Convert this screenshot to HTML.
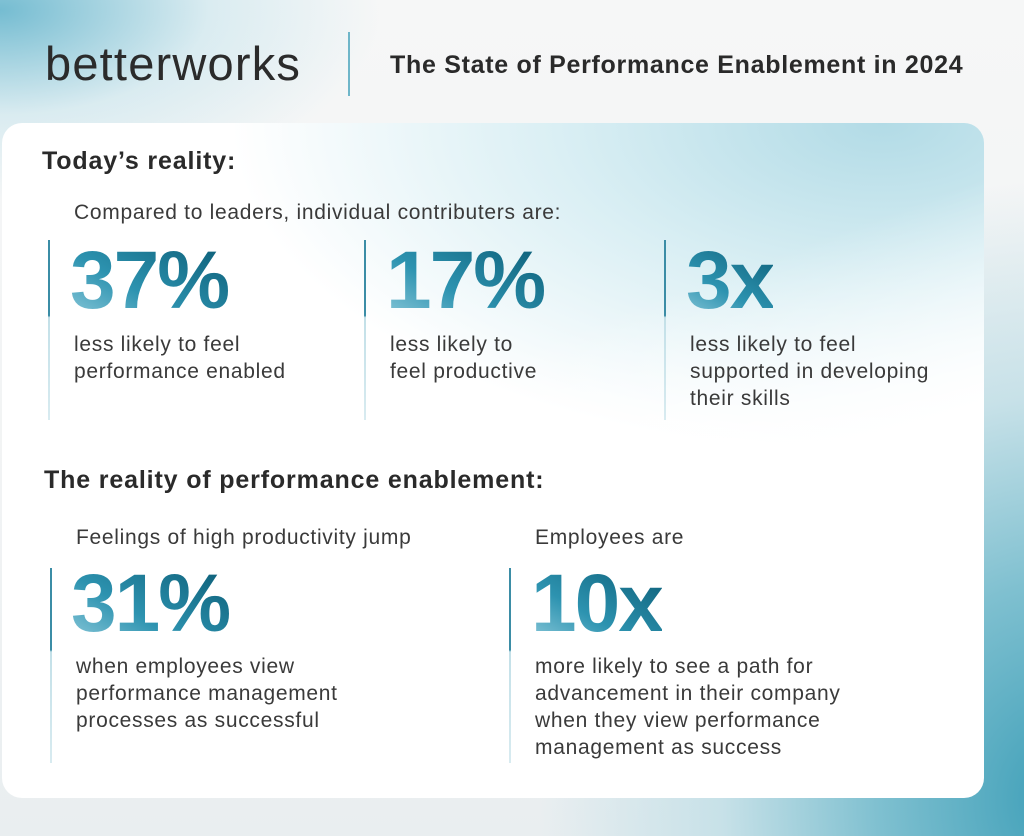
<!DOCTYPE html>
<html><head><style>
*{margin:0;padding:0;box-sizing:border-box}
body{width:1024px;height:836px;overflow:hidden;position:relative;font-family:"Liberation Sans",sans-serif;color:#333;
background:
radial-gradient(ellipse 380px 190px at 0px 10px,rgba(110,185,207,0.95),rgba(190,225,235,0.5) 55%,rgba(245,246,246,0) 100%),
radial-gradient(ellipse 520px 620px at 1060px 800px,#3e9fb8 0%,#7fc0d0 35%,#c7e1e8 65%,rgba(240,243,244,0) 100%),
linear-gradient(180deg,#f6f7f7 0%,#f1f3f4 60%,#e9eef0 100%);}
.card{position:absolute;left:2px;top:123px;width:982px;height:675px;border-radius:20px;overflow:hidden;
background:linear-gradient(160deg,rgba(255,255,255,0) 40%,#fff 62%),radial-gradient(ellipse 650px 330px at 880px 0px,#b2dbe6,#daeff4 50%,#fff 100%);}
.t{position:absolute;white-space:nowrap}
.logo{left:45px;top:36px;font-size:47px;color:#2b2b2b;letter-spacing:1.2px}
.title{left:390px;top:51px;font-size:25px;font-weight:bold;color:#2a2a2a;letter-spacing:0.7px}
.sep{position:absolute;left:348px;top:32px;width:2px;height:64px;background:#6fb6c9}
.h{font-size:25px;font-weight:bold;color:#2a2a2a;letter-spacing:0.85px}
.b{font-size:21px;line-height:27px;color:#3a3a3a;letter-spacing:0.7px}
.n{font-size:82px;font-weight:bold;letter-spacing:-2px;line-height:82px;
background:linear-gradient(30deg,#8fcbdc 0%,#2d93b0 40%,#0a5a73 100%);-webkit-background-clip:text;background-clip:text;color:transparent}
.v{position:absolute;width:2px;background:linear-gradient(#3b8da6 0,#3b8da6 42%,#c3e0e8 43%,#d8ebf0 100%)}
</style></head><body>
<div class="t logo">betterworks</div>
<div class="sep"></div>
<div class="t title">The State of Performance Enablement in 2024</div>
<div class="card"></div>
<div class="t h" style="left:42px;top:147px">Today’s reality:</div>
<div class="t b" style="left:74px;top:199px">Compared to leaders, individual contributers are:</div>
<div class="v" style="left:48px;top:240px;height:180px"></div>
<div class="v" style="left:364px;top:240px;height:180px"></div>
<div class="v" style="left:664px;top:240px;height:180px"></div>
<div class="t n" style="left:70px;top:240px">37%</div>
<div class="t n" style="left:386px;top:240px">17%</div>
<div class="t n" style="left:686px;top:240px">3x</div>
<div class="t b" style="left:74px;top:331px">less likely to feel<br>performance enabled</div>
<div class="t b" style="left:390px;top:331px">less likely to<br>feel productive</div>
<div class="t b" style="left:690px;top:331px">less likely to feel<br>supported in developing<br>their skills</div>
<div class="t h" style="left:44px;top:466px">The reality of performance enablement:</div>
<div class="t b" style="left:76px;top:524px">Feelings of high productivity jump</div>
<div class="t b" style="left:535px;top:524px">Employees are</div>
<div class="v" style="left:50px;top:568px;height:195px"></div>
<div class="v" style="left:509px;top:568px;height:195px"></div>
<div class="t n" style="left:71px;top:563px">31%</div>
<div class="t n" style="left:531px;top:563px">10x</div>
<div class="t b" style="left:76px;top:653px">when employees view<br>performance management<br>processes as successful</div>
<div class="t b" style="left:535px;top:653px">more likely to see a path for<br>advancement in their company<br>when they view performance<br>management as success</div>
</body></html>
